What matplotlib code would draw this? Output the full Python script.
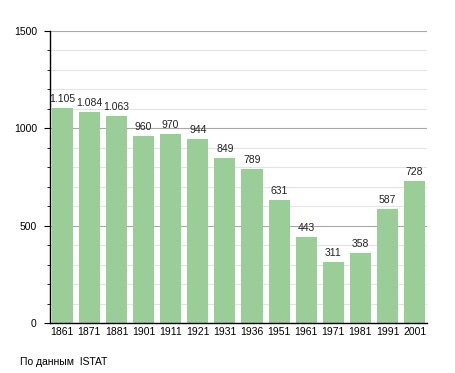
import matplotlib.pyplot as plt
from matplotlib.ticker import MultipleLocator

years = ['1861', '1871', '1881', '1901', '1911', '1921', '1931',
         '1936', '1951', '1961', '1971', '1981', '1991', '2001']
population = [1105, 1084, 1063, 960, 970, 944, 849,
              789, 631, 443, 311, 358, 587, 728]

BAR_COLOR = '#9acd98'

plt.rcParams['font.family'] = ['Liberation Sans', 'DejaVu Sans']

fig = plt.figure(figsize=(4.55, 3.73), dpi=100)
ax = fig.add_axes([0.110, 0.134, 0.828, 0.783])

x = range(len(years))
ax.bar(x, population, width=0.78, color=BAR_COLOR, zorder=2)

for xi, v in zip(x, population):
    label = f'{v:,}'.replace(',', '.')
    ax.annotate(label, (xi, v), xytext=(0, 3), textcoords='offset points',
                ha='center', va='bottom', fontsize=7.5, color='#222222')

ax.set_xlim(-0.45, 13.45)
ax.set_ylim(0, 1500)
ax.set_xticks(list(x))
ax.set_xticklabels(years)
ax.yaxis.set_major_locator(MultipleLocator(500))
ax.yaxis.set_minor_locator(MultipleLocator(100))

ax.grid(axis='y', which='major', color='#a8a8a8', linewidth=0.8, zorder=0)
ax.grid(axis='y', which='minor', color='#e4e4e4', linewidth=0.8, zorder=0)

for side in ('top', 'right'):
    ax.spines[side].set_visible(False)
ax.spines['left'].set_linewidth(1.0)
ax.spines['bottom'].set_linewidth(1.0)

ax.tick_params(axis='x', length=0, labelsize=7.5, pad=3)
ax.tick_params(axis='y', which='major', length=4.5, labelsize=7.5, pad=5)
ax.tick_params(axis='y', which='minor', length=2)

fig.text(20 / 455, 1 - 362 / 373, 'По данным  ISTAT', fontsize=7.5,
         va='center', ha='left')

fig.savefig('out.png', dpi=100)
